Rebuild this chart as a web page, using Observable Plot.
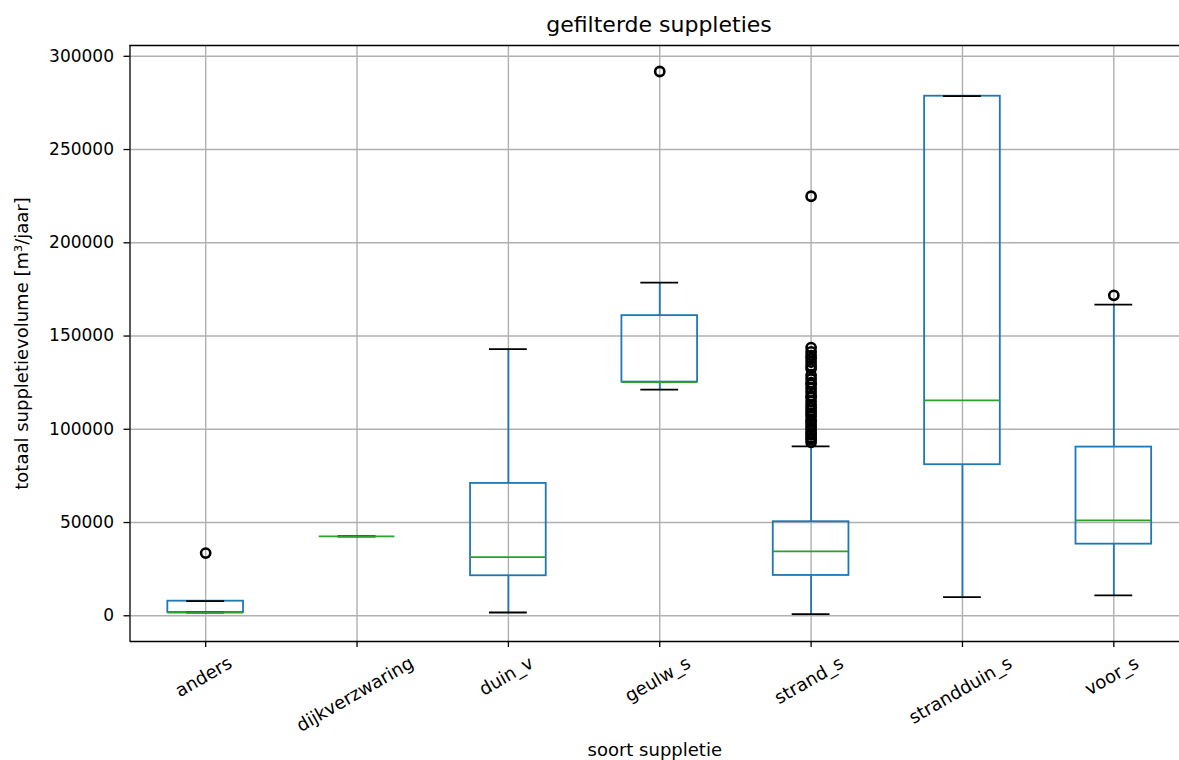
<!DOCTYPE html>
<html>
<head>
<meta charset="utf-8">
<script src="https://cdn.jsdelivr.net/npm/d3@7"></script>
<script src="https://cdn.jsdelivr.net/npm/@observablehq/plot@0.6"></script>
<style>
  html, body { margin: 0; padding: 0; background: #fff; overflow: hidden; }
  #wrap { position: relative; width: 1179px; height: 760px; overflow: hidden; }
  #title { position: absolute; left: 0; top: 0; width: 1179px; height: 40px; overflow: hidden; }
  #title span { position: absolute; left: 659px; top: 12px; transform: translateX(-50%); white-space: nowrap;
           font: 22px "DejaVu Sans", sans-serif; color: #000; }
  #chart { position: absolute; left: 0; top: 40px; width: 1179px; height: 720px; overflow: hidden; }
  #chart svg { max-width: none !important; }
</style>
</head>
<body>
<div id="wrap">
<div id="title"><span>gefilterde suppleties</span></div>
<div id="chart"></div>
</div>
<script>
// ---- data ----
const categories = ["anders", "dijkverzwaring", "duin_v", "geulw_s", "strand_s", "strandduin_s", "voor_s"];
const whiskerLow  = [1770, 42540, 1770, 121240, 860, 9980, 10890];
const q1          = [1770, 42540, 21460, 125320, 21620, 81000, 38410];
const median      = [1770, 42540, 31440, 125320, 34500, 115500, 51130];
const q3          = [7830, 42540, 70980, 160940, 50430, 278600, 90450];
const whiskerHigh = [7830, 42540, 143030, 178650, 90830, 278600, 166840];
const outlierCategory = [
  "anders", "geulw_s", "voor_s", "strand_s",
  "strand_s", "strand_s", "strand_s", "strand_s", "strand_s", "strand_s", "strand_s", "strand_s",
  "strand_s", "strand_s", "strand_s", "strand_s", "strand_s", "strand_s", "strand_s", "strand_s",
  "strand_s", "strand_s", "strand_s", "strand_s", "strand_s", "strand_s", "strand_s", "strand_s",
  "strand_s", "strand_s", "strand_s", "strand_s", "strand_s", "strand_s", "strand_s"
];
const outlierValue = [
  33600, 291850, 171830, 224950,
  93000, 94500, 95500, 97000, 98000, 99500, 101000, 102500,
  104000, 105000, 107000, 108500, 110000, 111500, 113000, 115000,
  117000, 118000, 120000, 122000, 124000, 125000, 127000, 129000,
  132500, 134000, 136000, 138000, 139500, 141500, 143800
];
const yTicks = [0, 50000, 100000, 150000, 200000, 250000, 300000];
const yDomain = [-13790, 305790];
const yLabel = "totaal suppletievolume [m³/jaar]";
const xLabel = "soort suppletie";

// ---- derived tables ----
const pos = new Map(categories.map((c, i) => [c, i + 1]));
const boxes = categories.map((c, i) => ({
  cat: c, p: i + 1, lo: whiskerLow[i], q1: q1[i], med: median[i], q3: q3[i], hi: whiskerHigh[i]
}));
const fliers = outlierValue.map((v, i) => ({p: pos.get(outlierCategory[i]), v}));

const FS = 17;      // tick numbers
const LS = 18;      // words
const blue = "#1f77b4", green = "#2ca02c", grid = "#b0b0b0";

// the axes extend past the right window edge (matplotlib xlim 0.5..n+0.5 over ~1060px);
// the visible part of that span is 1049.5px
const W = 1179, ML = 129.5, fullSpan = 1059.5;
const xMax = 0.5 + categories.length * (W - ML) / fullSpan;

// measure tick-label widths to place rotated labels like matplotlib (ha=center)
const ctx = document.createElement("canvas").getContext("2d");
ctx.font = `${LS}px "DejaVu Sans"`;
const labelMarks = boxes.map(b => {
  const w = ctx.measureText(b.cat).width;
  const h = LS * 1.16;
  const bboxH = w * 0.5 + h * Math.cos(Math.PI / 6);
  return Plot.text([b], {
    x: "p", text: "cat", frameAnchor: "bottom", rotate: -30,
    textAnchor: "middle", lineAnchor: "middle", dy: 11 + bboxH / 2, dx: -2,
    fill: "#000", fontSize: LS
  });
});

const chart = Plot.plot({
  width: W,
  height: 720,
  marginLeft: ML,
  marginRight: 0,
  marginTop: 5,
  marginBottom: 119,
  style: {fontFamily: '"DejaVu Sans", sans-serif', fontSize: FS + "px", color: "#000", background: "#fff", maxWidth: "none"},
  x: {type: "linear", domain: [0.5, xMax], axis: null},
  y: {domain: yDomain, axis: null},
  marks: [
    Plot.gridY(yTicks, {stroke: grid, strokeOpacity: 1, strokeWidth: 1.4}),
    Plot.gridX(boxes.map(b => b.p), {stroke: grid, strokeOpacity: 1, strokeWidth: 1.4}),
    Plot.axisY(yTicks, {tickSize: 6, tickPadding: 10, tickFormat: d => String(d), label: null,
                        fontSize: FS, stroke: "#000", strokeWidth: 1.3}),
    Plot.axisX(boxes.map(b => b.p), {tickSize: 6, tickFormat: () => "", label: null, stroke: "#000", strokeWidth: 1.3}),
    // box bodies
    Plot.rect(boxes, {x1: d => d.p - 0.25, x2: d => d.p + 0.25, y1: "q1", y2: "q3",
                      fill: "none", stroke: blue, strokeWidth: 1.8}),
    // whiskers
    Plot.ruleX(boxes, {x: "p", y1: "q3", y2: "hi", stroke: blue, strokeWidth: 1.8}),
    Plot.ruleX(boxes, {x: "p", y1: "lo", y2: "q1", stroke: blue, strokeWidth: 1.8}),
    // caps
    Plot.ruleY(boxes, {y: "hi", x1: d => d.p - 0.125, x2: d => d.p + 0.125, stroke: "#000", strokeWidth: 1.8}),
    Plot.ruleY(boxes, {y: "lo", x1: d => d.p - 0.125, x2: d => d.p + 0.125, stroke: "#000", strokeWidth: 1.8}),
    // medians
    Plot.ruleY(boxes, {y: "med", x1: d => d.p - 0.25, x2: d => d.p + 0.25, stroke: green, strokeWidth: 1.8}),
    // fliers
    Plot.dot(fliers, {x: "p", y: "v", r: 4.6, fill: "none", stroke: "#000", strokeWidth: 2.6}),
    // spines (right spine lies outside the visible window)
    Plot.ruleY([yDomain[1]], {stroke: "#000", strokeWidth: 1.3}),
    Plot.ruleY([yDomain[0]], {stroke: "#000", strokeWidth: 1.3}),
    Plot.ruleX([0.5], {stroke: "#000", strokeWidth: 1.3}),
    ...labelMarks,
    Plot.text([yLabel], {frameAnchor: "left", dx: -107.5, rotate: -90, textAnchor: "middle",
                         lineAnchor: "middle", fill: "#000", fontSize: LS}),
    Plot.text([xLabel], {frameAnchor: "bottom", dy: 109, textAnchor: "middle",
                         lineAnchor: "middle", fill: "#000", fontSize: LS})
  ]
});
chart.style.maxWidth = "none";
document.getElementById("chart").appendChild(chart);
</script>
</body>
</html>
